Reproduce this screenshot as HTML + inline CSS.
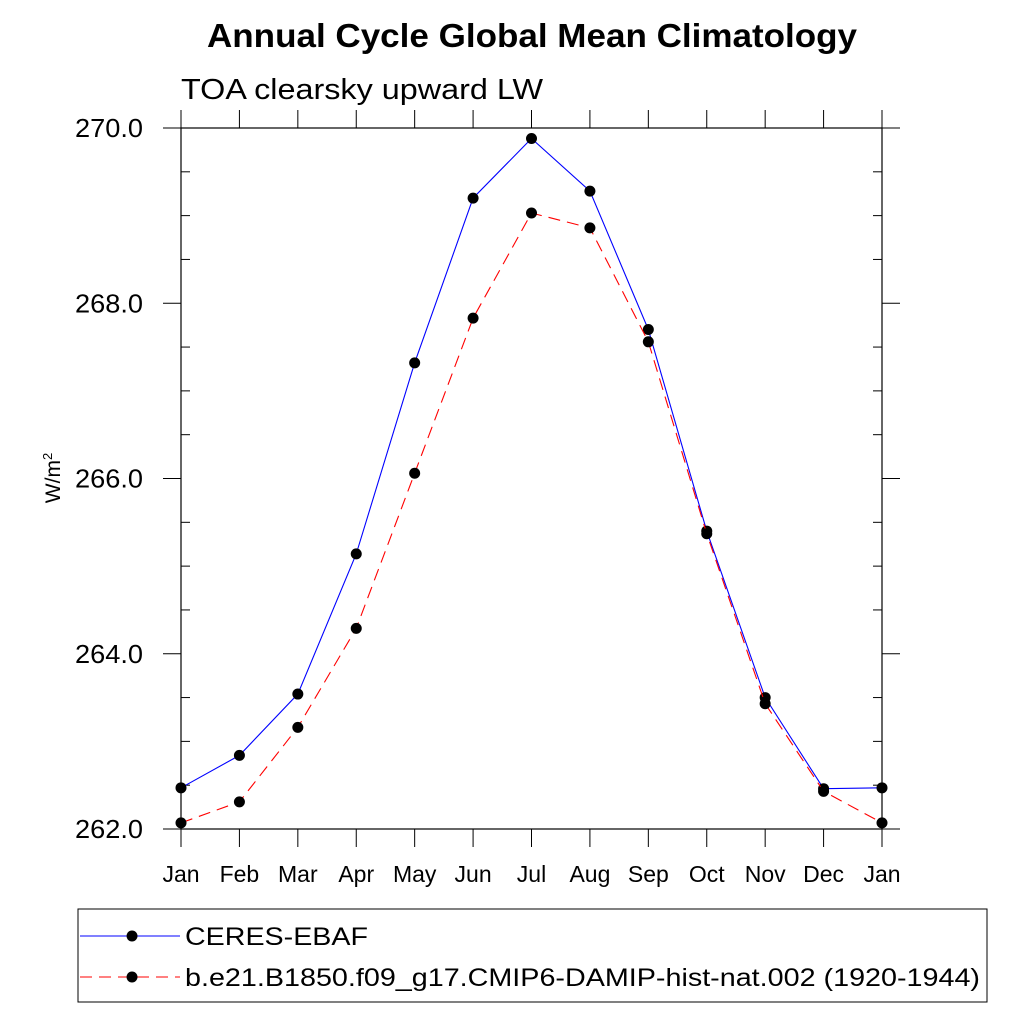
<!DOCTYPE html>
<html><head><meta charset="utf-8"><style>
body{margin:0;background:#fff;}
svg text{font-family:"Liberation Sans",sans-serif;fill:#000;}
</style></head><body>
<svg id="c" width="1024" height="1024">
<text x="207" y="47" font-size="33" font-weight="bold" textLength="650" lengthAdjust="spacingAndGlyphs">Annual Cycle Global Mean Climatology</text>
<text x="181" y="99" font-size="29" textLength="362" lengthAdjust="spacingAndGlyphs">TOA clearsky upward LW</text>
<text transform="translate(60,478) rotate(-90)" font-size="21" text-anchor="middle">W/m<tspan font-size="13" dy="-8">2</tspan></text>
<rect x="181" y="128" width="701" height="701" fill="none" stroke="#000" stroke-width="1.2"/>
<g id="axes"></g>
<g id="series"></g>
<rect x="78" y="909" width="909" height="93" fill="none" stroke="#000" stroke-width="1"/>
<g>
<line x1="80" y1="936" x2="180" y2="936" stroke="#0000ff" stroke-width="1"/>
<circle cx="132" cy="936" r="5.5" fill="#000"/>
<text x="185" y="945" font-size="25" textLength="183" lengthAdjust="spacingAndGlyphs">CERES-EBAF</text>
</g>
<g>
<line x1="80" y1="977" x2="180" y2="977" stroke="#ff0000" stroke-width="1" stroke-dasharray="12,7"/>
<circle cx="132" cy="977" r="5.5" fill="#000"/>
<text x="185" y="986" font-size="25" textLength="795" lengthAdjust="spacingAndGlyphs">b.e21.B1850.f09_g17.CMIP6-DAMIP-hist-nat.002 (1920-1944)</text>
</g>
</svg>
<script>
const months=["Jan","Feb","Mar","Apr","May","Jun","Jul","Aug","Sep","Oct","Nov","Dec","Jan"];
const ceres=[262.47,262.84,263.54,265.14,267.32,269.20,269.88,269.28,267.70,265.40,263.50,262.46,262.47];
const model=[262.07,262.31,263.16,264.29,266.06,267.83,269.03,268.86,267.56,265.37,263.43,262.43,262.07];
const yTicks=[262,264,266,268,270];
const NS="http://www.w3.org/2000/svg";
const X0=181,X1=882,Y0=829,Y1=128,ymin=262,ymax=270;
const xs=i=>X0+(X1-X0)*i/(months.length-1);
const ys=v=>Y0-(v-ymin)/(ymax-ymin)*(Y0-Y1);
function mk(tag,attrs,parent){const e=document.createElementNS(NS,tag);for(const k in attrs)e.setAttribute(k,attrs[k]);parent.appendChild(e);return e;}
const ax=document.getElementById('axes');
months.forEach((m,i)=>{
  const x=xs(i);
  const t=mk('line',{x1:x,x2:x,y1:Y0,y2:Y0+18,stroke:'#000'},ax);
  
  
  const t2=mk('line',{x1:x,x2:x,y1:Y1,y2:Y1-18,stroke:'#000'},ax);
  
  
  const l=mk('text',{x:x,y:882,'font-size':23,'text-anchor':'middle'},ax);
  l.textContent=m;
  
  
});
for(let v=ymin;v<=ymax+1e-9;v+=0.5){
  const y=ys(v);
  const major=Math.abs(v-Math.round(v/2)*2)<1e-9;
  if(major){
    mk('line',{x1:X0-18,x2:X0,y1:y,y2:y,stroke:'#000'},ax);
    mk('line',{x1:X1,x2:X1+18,y1:y,y2:y,stroke:'#000'},ax);
  }else{
    mk('line',{x1:X0,x2:X0+9,y1:y,y2:y,stroke:'#000'},ax);
    mk('line',{x1:X1-9,x2:X1,y1:y,y2:y,stroke:'#000'},ax);
  }
}
yTicks.forEach(v=>{
  const l=mk('text',{x:75,y:ys(v)+9,'font-size':26,textLength:68,lengthAdjust:'spacingAndGlyphs'},ax);
  l.textContent=v.toFixed(1);
  
  
});
const sg=document.getElementById('series');
function draw(vals,color,dash,name){
  const p=mk('polyline',{points:vals.map((v,i)=>xs(i)+','+ys(v)).join(' '),fill:'none',stroke:color,'stroke-width':1.1,'stroke-dasharray':dash},sg);
  
  
  vals.forEach((v,i)=>{
    const c=mk('circle',{cx:xs(i),cy:ys(v),r:5.5,fill:'#000'},sg);
    
    
  });
}
draw(ceres,'#0000ff','none','ceres');
draw(model,'#ff0000','12,7','model');
</script>
</body></html>
